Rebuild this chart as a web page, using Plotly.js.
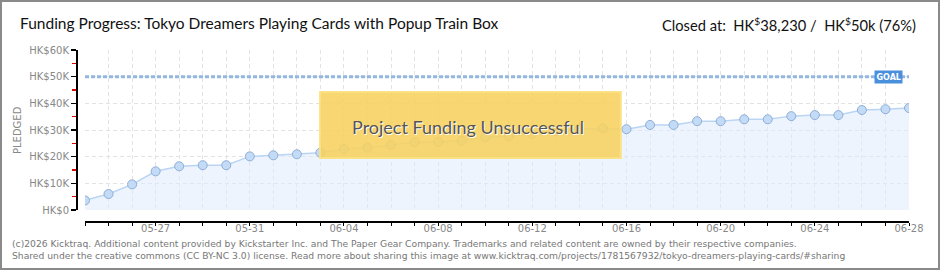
<!DOCTYPE html>
<html>
<head>
<meta charset="utf-8">
<script src="https://cdn.plot.ly/plotly-3.0.1.min.js"></script>
<style>
  html, body { margin: 0; padding: 0; background: #fff; }
  #wrap { position: relative; width: 940px; height: 270px; }
  #chart { width: 940px; height: 270px; }
  #frame { position: absolute; left: 0; top: 0; width: 940px; height: 270px; box-sizing: border-box; border: 2px solid #8a8a8a; pointer-events: none; }
</style>
</head>
<body>
<div id="wrap"><div id="chart"></div><div id="frame"></div></div>
<script>
// ---- data ----
const dates = [
  '2026-05-24','2026-05-25','2026-05-26','2026-05-27','2026-05-28','2026-05-29','2026-05-30','2026-05-31',
  '2026-06-01','2026-06-02','2026-06-03','2026-06-04','2026-06-05','2026-06-06','2026-06-07','2026-06-08',
  '2026-06-09','2026-06-10','2026-06-11','2026-06-12','2026-06-13','2026-06-14','2026-06-15','2026-06-16',
  '2026-06-17','2026-06-18','2026-06-19','2026-06-20','2026-06-21','2026-06-22','2026-06-23','2026-06-24',
  '2026-06-25','2026-06-26','2026-06-27','2026-06-28'
];
const pledged = [
  3600, 6000, 9600, 14500, 16400, 16800, 16800, 20100,
  20500, 20900, 21500, 22900, 23400, 24400, 25400, 25600,
  26000, 27300, 27700, 28500, 29500, 30500, 30600, 30300,
  31900, 31900, 33300, 33300, 34000, 34000, 35200, 35600,
  35600, 37500, 37800, 38230
];
const goal = 50000;
const goalDates = ['2026-05-24', '2026-06-28'];
const goalValues = [goal, goal];
const xTickVals = ['2026-05-27','2026-05-31','2026-06-04','2026-06-08','2026-06-12','2026-06-16','2026-06-20','2026-06-24','2026-06-28'];
const xTickText = ['05-27','05-31','06-04','06-08','06-12','06-16','06-20','06-24','06-28'];
const yTickVals = [0, 10000, 20000, 30000, 40000, 50000, 60000];
const yTickText = ['HK$0','HK$10K','HK$20K','HK$30K','HK$40K','HK$50K','HK$60K'];
const titleText = 'Funding Progress: Tokyo Dreamers Playing Cards with Popup Train Box';
const closedText = 'Closed at:  HK<sup>$</sup>38,230 /  HK<sup>$</sup>50k (76%)';
const bannerText = 'Project Funding Unsuccessful';
const footer1 = '(c)2026 Kicktraq. Additional content provided by Kickstarter Inc. and The Paper Gear Company. Trademarks and related content are owned by their respective companies.';
const footer2 = 'Shared under the creative commons (CC BY-NC 3.0) license. Read more about sharing this image at www.kicktraq.com/projects/1781567932/tokyo-dreamers-playing-cards/#sharing';

const traces = [
  {
    x: dates, y: pledged, type: 'scatter', mode: 'lines+markers',
    fill: 'tozeroy', fillcolor: 'rgba(222,235,251,0.55)',
    line: { color: '#b9d5f3', width: 1.5 },
    marker: { size: 9, color: '#c3dbf6', line: { color: '#8eaed6', width: 1 } },
    hoverinfo: 'skip', showlegend: false
  },
  {
    x: goalDates, y: goalValues, type: 'scatter', mode: 'lines',
    line: { color: '#94b7e2', width: 3, dash: '4px,2px' },
    hoverinfo: 'skip', showlegend: false
  }
];

const layout = {
  width: 940, height: 270,
  margin: { l: 76, r: 31, t: 50, b: 49 },
  paper_bgcolor: '#ffffff', plot_bgcolor: '#ffffff',
  font: { family: 'DejaVu Sans', size: 10, color: '#888' },
  title: {
    text: titleText, xref: 'container', yref: 'container',
    x: 20 / 940, xanchor: 'left', y: 1 - 24 / 270, yanchor: 'middle',
    font: { family: 'Lato', size: 15.5, color: '#111' }
  },
  xaxis: {
    type: 'date', range: ['2026-05-24', '2026-06-28'],
    domain: [9 / 833, 1], anchor: 'free', position: 0,
    showline: true, linecolor: '#000', linewidth: 1.5,
    tickmode: 'array', tickvals: xTickVals, ticktext: xTickText,
    ticks: 'outside', ticklen: 3, tickcolor: '#000', tickwidth: 1,
    ticklabelstandoff: -6,
    tickfont: { family: 'DejaVu Sans', size: 10, color: '#888' },
    showgrid: true, gridcolor: '#e3e3e3', griddash: '4px,3px', gridwidth: 1,
    minor: { dtick: 86400000, tick0: '2026-05-24', ticks: 'outside', ticklen: 3, tickcolor: '#000', tickwidth: 1,
             showgrid: true, gridcolor: '#e3e3e3', griddash: '4px,3px', gridwidth: 1 },
    zeroline: false, fixedrange: true
  },
  yaxis: {
    range: [0, 60000], domain: [11 / 171, 1], anchor: 'free', position: 0,
    showline: true, linecolor: '#000', linewidth: 1.5,
    tickmode: 'array', tickvals: yTickVals, ticktext: yTickText,
    ticks: 'outside', ticklen: 5, tickcolor: '#000', tickwidth: 1.5,
    tickfont: { family: 'DejaVu Sans', size: 10, color: '#888' },
    showgrid: true, gridcolor: '#e3e3e3', griddash: '4px,3px', gridwidth: 1,
    minor: { dtick: 5000, tick0: 0, ticks: 'outside', ticklen: 4, tickcolor: '#e00000', tickwidth: 1.5, showgrid: false },
    zeroline: false, fixedrange: true
  },
  shapes: [
    { type: 'rect', xref: 'paper', yref: 'paper', x0: 0.293, x1: 0.654, y0: 0.368, y1: 0.754,
      fillcolor: 'rgba(247,210,95,0.88)', line: { color: 'rgba(251,224,130,0.95)', width: 2 }, layer: 'above' }
  ],
  annotations: [
    { text: closedText, xref: 'paper', yref: 'paper', x: 1.0108, y: 1.152, xanchor: 'right', yanchor: 'middle',
      showarrow: false, font: { family: 'Lato', size: 14.7, color: '#111' } },
    { text: 'GOAL', xref: 'x', yref: 'y', x: goalDates[1], y: goal, xanchor: 'right', yanchor: 'middle', xshift: -6,
      showarrow: false, bgcolor: '#4a8fdc', borderpad: 1.5, font: { family: 'DejaVu Sans', size: 8, color: '#fff', weight: 'bold' } },
    { text: 'PLEDGED', xref: 'paper', yref: 'paper', x: (17 - 76) / 833, y: (221 - 130) / 171, textangle: -90,
      xanchor: 'center', yanchor: 'middle', showarrow: false, font: { family: 'DejaVu Sans', size: 10, color: '#888' } },
    { text: bannerText, xref: 'paper', yref: 'paper', x: (468 - 76) / 833, y: (221 - 127) / 171, xanchor: 'center', yanchor: 'middle',
      showarrow: false, font: { family: 'Lato', size: 18, color: '#555', shadow: '1px 1px 0 #fff' } },
    { text: footer1, xref: 'paper', yref: 'paper', x: (10 - 76) / 833, y: (221 - 243) / 171, xanchor: 'left', yanchor: 'middle',
      showarrow: false, font: { family: 'DejaVu Sans', size: 9.2, color: '#777' } },
    { text: footer2, xref: 'paper', yref: 'paper', x: (10 - 76) / 833, y: (221 - 255.5) / 171, xanchor: 'left', yanchor: 'middle',
      showarrow: false, font: { family: 'DejaVu Sans', size: 9.2, color: '#777' } }
  ]
};

Plotly.newPlot('chart', traces, layout, { staticPlot: true, displayModeBar: false });
</script>
</body>
</html>
